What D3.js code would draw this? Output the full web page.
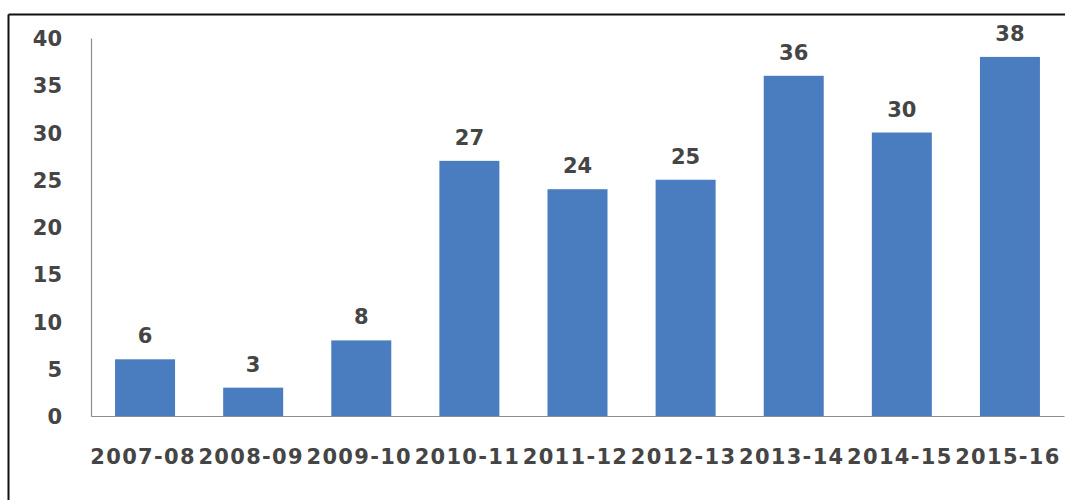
<!DOCTYPE html>
<html>
<head>
<meta charset="utf-8">
<script src="https://cdn.jsdelivr.net/npm/d3@7"></script>
<style>
  html, body { margin: 0; padding: 0; background: #fff; }
  svg { display: block; }
</style>
</head>
<body>
<svg id="chart" width="1065" height="500"></svg>
<script>
// Yearly counts, one bar per financial year
const years = ["2007-08", "2008-09", "2009-10", "2010-11", "2011-12", "2012-13", "2013-14", "2014-15", "2015-16"];
const counts = [6, 3, 8, 27, 24, 25, 36, 30, 38];
const yTicks = [0, 5, 10, 15, 20, 25, 30, 35, 40];

const svg = d3.select("#chart");
const W = 1065, H = 500;
const plotLeft = 91, plotRight = 1064, plotTop = 38, plotBottom = 416;

const font = "'DejaVu Sans', sans-serif";
const textColor = "#454545";

// frame lines along the top and left edge
svg.append("line").attr("x1", 8.5).attr("x2", W).attr("y1", 14.5).attr("y2", 14.5)
  .attr("stroke", "#111").attr("stroke-width", 2);
svg.append("line").attr("x1", 8.5).attr("x2", 8.5).attr("y1", 14.5).attr("y2", H)
  .attr("stroke", "#111").attr("stroke-width", 2);

const x = d3.scaleBand().domain(years).range([plotLeft, plotRight])
  .paddingInner(0.445).paddingOuter(0.2225);
const y = d3.scaleLinear().domain([0, 40]).range([plotBottom, plotTop]);

// y axis: line plus labels, no tick marks
const yAxis = d3.axisLeft(y).tickValues(yTicks).tickSize(0).tickPadding(29);
const gy = svg.append("g").attr("transform", `translate(${plotLeft},0)`).call(yAxis);
gy.select(".domain").attr("stroke", "#8c8c8c").attr("stroke-width", 1.2);
gy.selectAll("text")
  .attr("font-family", font).attr("font-weight", "bold").attr("font-size", 21)
  .attr("fill", textColor).attr("dy", "0.36em");

// x axis: baseline plus category labels
const xAxis = d3.axisBottom(x).tickSize(0).tickPadding(33);
const gx = svg.append("g").attr("transform", `translate(0,${plotBottom})`).call(xAxis);
gx.select(".domain").attr("stroke", "#8c8c8c").attr("stroke-width", 1.2);
gx.selectAll("text")
  .attr("font-family", font).attr("font-weight", "bold").attr("font-size", 21)
  .attr("letter-spacing", 1.3)
  .attr("dx", -2)
  .attr("fill", textColor);

// bars
svg.append("g").selectAll("rect").data(counts).join("rect")
  .attr("x", (d, i) => x(years[i]))
  .attr("width", x.bandwidth())
  .attr("y", d => y(d))
  .attr("height", d => y(0) - y(d))
  .attr("fill", "#4a7dbf");

// value labels above bars
svg.append("g").selectAll("text").data(counts).join("text")
  .attr("x", (d, i) => x(years[i]) + x.bandwidth() / 2)
  .attr("y", d => y(d) - 16)
  .attr("text-anchor", "middle")
  .attr("font-family", font).attr("font-weight", "bold").attr("font-size", 21)
  .attr("fill", textColor)
  .text(d => d);
</script>
</body>
</html>
